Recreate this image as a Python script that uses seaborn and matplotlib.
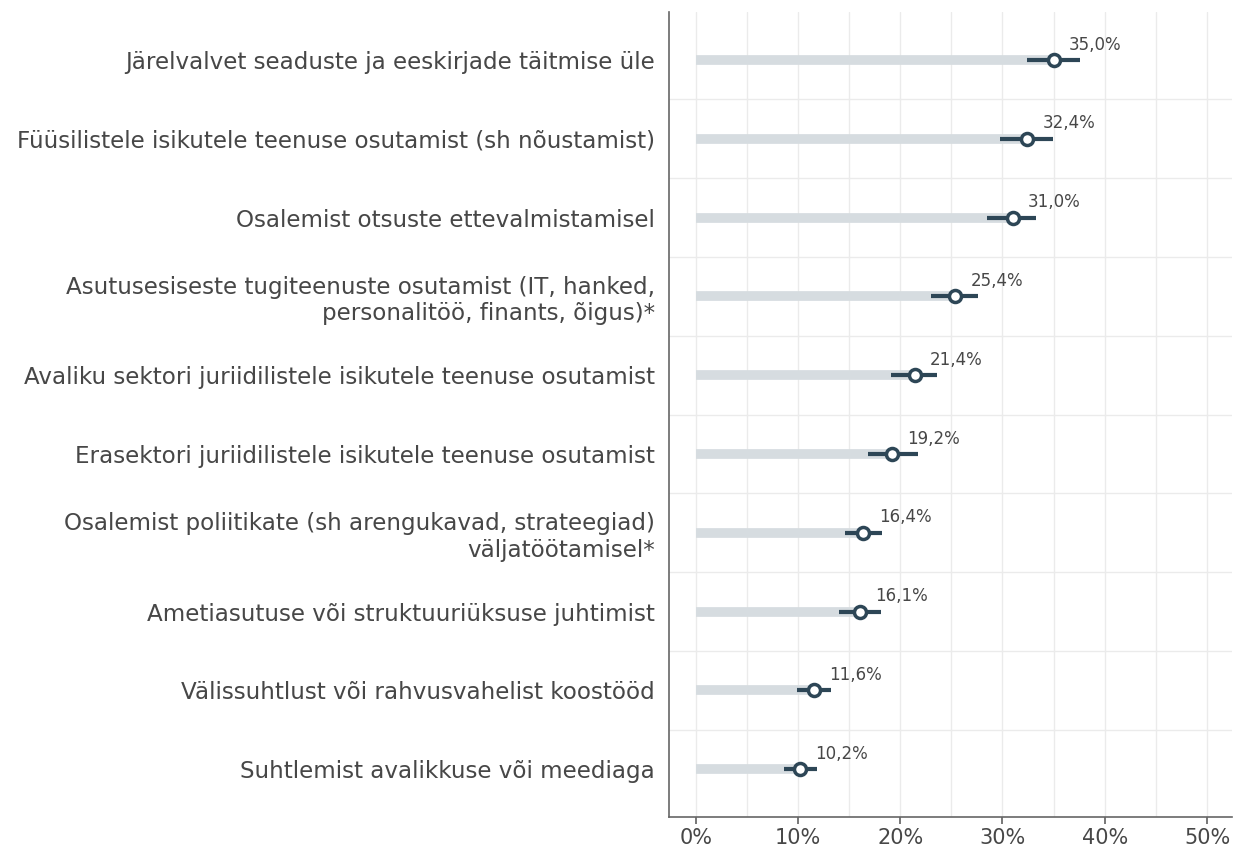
import numpy as np
import pandas as pd
import matplotlib.pyplot as plt
import seaborn as sns
from matplotlib.ticker import MultipleLocator, FixedLocator

categories = [
    "Järelvalvet seaduste ja eeskirjade täitmise üle",
    "Füüsilistele isikutele teenuse osutamist (sh nõustamist)",
    "Osalemist otsuste ettevalmistamisel",
    "Asutusesiseste tugiteenuste osutamist (IT, hanked,\npersonalitöö, finants, õigus)*",
    "Avaliku sektori juriidilistele isikutele teenuse osutamist",
    "Erasektori juriidilistele isikutele teenuse osutamist",
    "Osalemist poliitikate (sh arengukavad, strateegiad)\nväljatöötamisel*",
    "Ametiasutuse või struktuuriüksuse juhtimist",
    "Välissuhtlust või rahvusvahelist koostööd",
    "Suhtlemist avalikkuse või meediaga",
]
values = [35.0, 32.4, 31.0, 25.4, 21.4, 19.2, 16.4, 16.1, 11.6, 10.2]
ci_low = [32.4, 29.8, 28.5, 23.0, 19.1, 16.9, 14.6, 14.0, 9.9, 8.6]
ci_high = [37.6, 34.9, 33.3, 27.6, 23.6, 21.7, 18.2, 18.1, 13.2, 11.9]
x_ticks = [0, 10, 20, 30, 40, 50]

df = pd.DataFrame({"cat": categories, "value": values,
                   "lo": ci_low, "hi": ci_high})
df["pos"] = np.arange(len(df))

sns.set_theme(style="white")
plt.rcParams['font.family'] = ['DejaVu Sans']

dark = "#2d4656"
grey_bar = "#d6dce0"
text_col = "#474747"

fig = plt.figure(figsize=(12.39, 8.46), dpi=100)
ax = fig.add_axes([0.54, 0.034, 0.454, 0.952])

# background bars from 0 to value
ax.hlines(df["pos"], 0, df["value"], color=grey_bar, lw=7, zorder=2)
# confidence intervals
ax.hlines(df["pos"], df["lo"], df["hi"], color=dark, lw=3, zorder=3)
# point markers
sns.scatterplot(data=df, x="value", y="pos", ax=ax, s=75, marker="o",
                facecolor="white", edgecolor=dark, linewidth=2.5, zorder=4,
                legend=False)

for _, r in df.iterrows():
    ax.annotate(f"{r['value']:.1f}%".replace(".", ","),
                (r["value"], r["pos"]), xytext=(11, 11),
                textcoords="offset points", fontsize=12, color=text_col,
                va="center", ha="left")

ax.set_xlim(-2.6, 52.4)
ax.set_ylim(len(df) - 1 + 0.61, -0.61)

ax.xaxis.set_major_locator(FixedLocator(x_ticks))
ax.xaxis.set_minor_locator(MultipleLocator(5))
ax.set_xticklabels([f"{t}%" for t in x_ticks])
ax.set_yticks(df["pos"])
ax.set_yticklabels(df["cat"])
ax.yaxis.set_minor_locator(FixedLocator(np.arange(0.5, len(df) - 1, 1)))

ax.grid(which="both", axis="x", color="#ebebeb", lw=1, zorder=0)
ax.grid(which="minor", axis="y", color="#ebebeb", lw=1, zorder=0)
ax.set_axisbelow(True)

ax.tick_params(axis="x", which="major", length=5, color="#666666",
               labelsize=15, labelcolor=text_col, pad=3, bottom=True)
ax.tick_params(axis="x", which="minor", length=0)
ax.tick_params(axis="y", which="both", length=0, labelsize=16.6,
               labelcolor=text_col, pad=10)

for side in ["top", "right"]:
    ax.spines[side].set_visible(False)
for side in ["left", "bottom"]:
    ax.spines[side].set_color("#666666")
    ax.spines[side].set_linewidth(1.2)

ax.set_xlabel("")
ax.set_ylabel("")

fig.savefig("out.png", dpi=100)
